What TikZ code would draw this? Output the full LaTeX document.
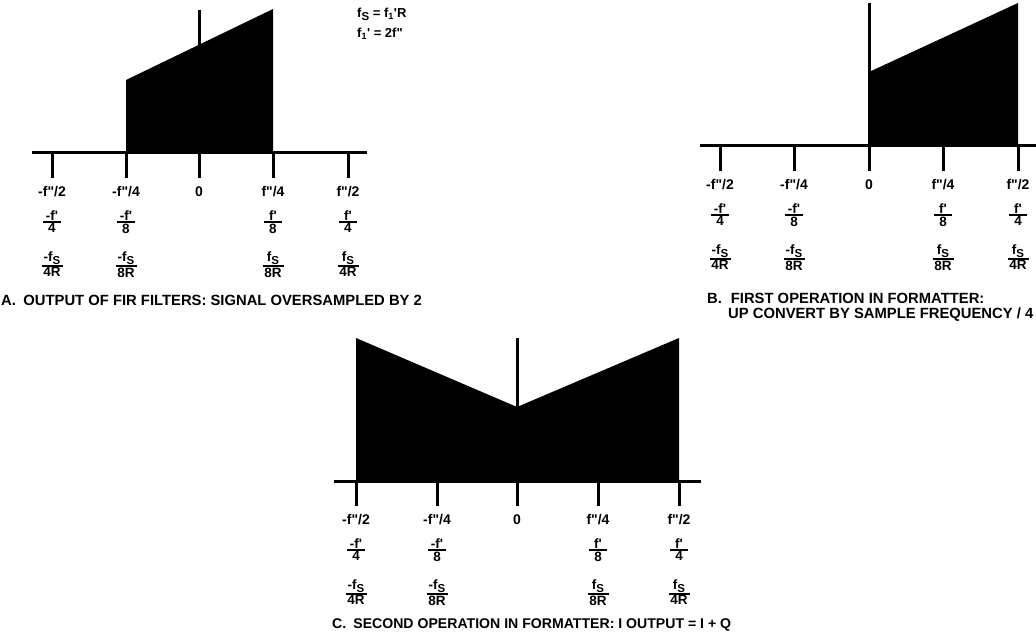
\documentclass[tikz,border=0pt]{standalone}
\usepackage{fontspec}
\setmainfont{Liberation Sans}[Ligatures=TeXOff]
\newcommand\fS{f\raisebox{-2.8pt}{\fontsize{11.5}{11.5}\selectfont S}}
\newcommand\dq{\char"0022\relax}
\newcommand\toplab[1]{\ifcase#1\or -f\dq/2\or -f\dq/4\or 0\or f\dq/4\or f\dq/2\fi}
\newcommand\numA[1]{\ifcase#1\or -f'\or -f'\or \or f'\or f'\fi}
\newcommand\denA[1]{\ifcase#1\or 4\or 8\or \or 8\or 4\fi}
\newcommand\numB[1]{\ifcase#1\or -\fS\or -\fS\or \or \fS\or \fS\fi}
\newcommand\denB[1]{\ifcase#1\or 4R\or 8R\or \or 8R\or 4R\fi}
\tikzset{
  axisline/.style={line width=3pt},
  tickline/.style={line width=3pt},
  fracrule/.style={line width=1.7pt},
  toplbl/.style={font=\fontsize{14}{14}\selectfont\bfseries, inner sep=0pt},
  fraclbl/.style={font=\fontsize{13.5}{13.5}\selectfont\bfseries, inner sep=0pt},
  eqlbl/.style={font=\fontsize{13}{13}\selectfont\bfseries, inner sep=0pt, anchor=west},
  capt/.style={font=\fontsize{14.8}{16}\selectfont\bfseries, inner sep=0pt, anchor=west},
}
\newcommand\axislabels[2]{%
  \foreach \i/\x in \xs {%
    \draw[tickline] (\x,#2) -- (\x,#2+25);
    \node[toplbl] (#1t\i) at (\x,#2+39) {\toplab{\i}};
    \ifnum\i=3\relax\else
      \node[fraclbl,anchor=south] (#1n\i) at (\x,#2+67.5) {\numA{\i}};
      \draw[fracrule] (\x-9,#2+69) -- (\x+9,#2+69);
      \node[fraclbl,anchor=north] (#1d\i) at (\x,#2+70.5) {\denA{\i}};
      \node[fraclbl,anchor=south] (#1m\i) at (\x,#2+111.5) {\numB{\i}};
      \draw[fracrule] (\x-10.5,#2+113) -- (\x+10.5,#2+113);
      \node[fraclbl,anchor=north] (#1e\i) at (\x,#2+114.5) {\denB{\i}};
    \fi
  }%
}
\begin{document}
\begin{tikzpicture}[x=1pt,y=-1pt]
\useasboundingbox (0,0) rectangle (1036,639);
% ---------- Panel A ----------
\fill (126,153) -- (126,80) -- (273,9) -- (273,153) -- cycle;
\draw[axisline] (32,153) -- (367,153);
\draw[axisline] (199,10) -- (199,153);
\def\xs{1/52,2/126,3/199,4/273,5/348}
\axislabels{a}{153}
\node[eqlbl] (eq1) at (357,14) {\fS\ = f\textsubscript{1}'R};
\node[eqlbl] (eq2) at (357,34) {f\textsubscript{1}' = 2f\dq};
\node[capt] (capA) at (1,300) {A.\hspace{0.5em}OUTPUT OF FIR FILTERS: SIGNAL OVERSAMPLED BY 2};
% ---------- Panel B ----------
\fill (869,146) -- (869,72) -- (1018,3) -- (1018,146) -- cycle;
\draw[axisline] (700,146) -- (1036,146);
\draw[axisline] (869,3) -- (869,146);
\def\xs{1/720,2/794,3/869,4/943,5/1018}
\axislabels{b}{146}
\node[capt] (capB1) at (707,298) {B.\hspace{0.6em}FIRST OPERATION IN FORMATTER:};
\node[capt] (capB2) at (728,315) {UP CONVERT BY SAMPLE FREQUENCY / 4};
% ---------- Panel C ----------
\fill (356,481) -- (356,338) -- (517,407) -- (679,338) -- (679,481) -- cycle;
\draw[axisline] (334,481) -- (701,481);
\draw[axisline] (517,338) -- (517,481);
\def\xs{1/356,2/437,3/517,4/598,5/679}
\axislabels{c}{481}
\node[capt,font=\fontsize{14.1}{16}\selectfont\bfseries] (capC) at (332,625) {C.\hspace{0.5em}SECOND OPERATION IN FORMATTER: I OUTPUT = I + Q};
\end{tikzpicture}
\end{document}
